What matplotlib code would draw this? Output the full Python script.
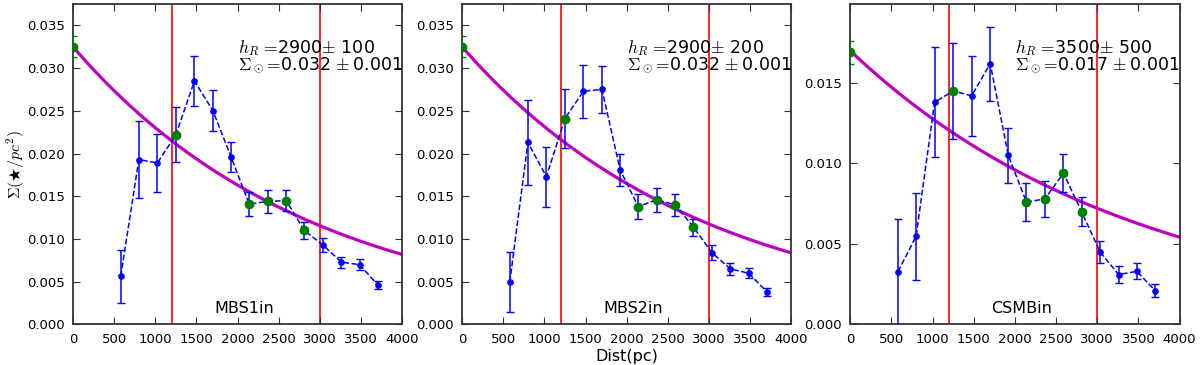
import numpy as np
import matplotlib.pyplot as plt

plt.rcParams['mathtext.fontset'] = 'cm'
plt.rcParams['font.family'] = 'DejaVu Sans'

# distances (pc) of the radial bins
dist = [0, 580, 800, 1025, 1250, 1475, 1700, 1920, 2140, 2365, 2590, 2810, 3035, 3260, 3480, 3705]
# bins used for the fit (green)
fit_idx = [0, 4, 8, 9, 10, 11]

names = ['MBS1in', 'MBS2in', 'CSMBin']

sig_mbs1 = [0.0325, 0.00564, 0.0193, 0.0189, 0.0222, 0.0285, 0.0250, 0.0196, 0.0141, 0.0144,
            0.0145, 0.0110, 0.0093, 0.0073, 0.0070, 0.0046]
err_mbs1 = [0.0012, 0.0031, 0.0045, 0.0034, 0.0032, 0.0029, 0.0024, 0.0018, 0.0014, 0.0013,
            0.0012, 0.0010, 0.0008, 0.00065, 0.00065, 0.00045]

sig_mbs2 = [0.0325, 0.00494, 0.0213, 0.0173, 0.0241, 0.0273, 0.0275, 0.0181, 0.0138, 0.0146,
            0.0140, 0.0114, 0.0084, 0.0065, 0.0060, 0.0038]
err_mbs2 = [0.0012, 0.0035, 0.0050, 0.0035, 0.0035, 0.0031, 0.0027, 0.0019, 0.0015, 0.0014,
            0.0013, 0.0010, 0.00085, 0.0007, 0.0006, 0.00045]

sig_csmb = [0.0169, 0.00328, 0.00547, 0.0138, 0.0145, 0.0142, 0.0162, 0.0105, 0.0076, 0.0078,
            0.0094, 0.0070, 0.0045, 0.0031, 0.0033, 0.0021]
err_csmb = [0.0007, 0.0033, 0.0027, 0.0034, 0.0030, 0.0025, 0.0023, 0.0017, 0.0012, 0.0011,
            0.0012, 0.0009, 0.0007, 0.00055, 0.0005, 0.0004]

# exponential disc fits
h_r = [2900, 2950, 3500]
sigma0 = [0.0325, 0.0325, 0.017]
fit_text = [r'$h_R\,=\!$2900$\pm$ 100' + '\n' + r'$\Sigma_\odot\!=\!$0.032$\,\pm$0.001',
            r'$h_R\,=\!$2900$\pm$ 200' + '\n' + r'$\Sigma_\odot\!=\!$0.032$\,\pm$0.001',
            r'$h_R\,=\!$3500$\pm$ 500' + '\n' + r'$\Sigma_\odot\!=\!$0.017$\,\pm$0.001']
ytop = [0.0375, 0.0375, 0.0199]
yticks = [np.arange(0, 0.0351, 0.005), np.arange(0, 0.0351, 0.005), np.arange(0, 0.0151, 0.005)]

sigs = [sig_mbs1, sig_mbs2, sig_csmb]
errs = [err_mbs1, err_mbs2, err_csmb]

fig = plt.figure(figsize=(12, 3.65), dpi=100)
lefts = [0.0608, 0.385, 0.7085]
axes = [fig.add_axes([l, 0.111, 0.2745, 0.878]) for l in lefts]

xx = np.linspace(0, 4000, 200)
d = np.array(dist)
for i, ax in enumerate(axes):
    s = np.array(sigs[i])
    e = np.array(errs[i])
    ax.axvline(1200, color='r', lw=1.2, zorder=1)
    ax.axvline(3000, color='r', lw=1.2, zorder=1)
    ax.plot(xx, sigma0[i] * np.exp(-xx / h_r[i]), color='m', lw=2.3, zorder=2)
    ax.errorbar(d[1:], s[1:], yerr=e[1:], fmt='o', color='b', ls='--', lw=1.1,
                ms=3.8, capsize=3, capthick=1, zorder=3)
    ax.errorbar(d[:1], s[:1], yerr=e[:1], fmt='o', color='g', ms=6, capsize=3,
                capthick=1, zorder=4)
    ax.plot(d[fit_idx[1:]], s[fit_idx[1:]], 'o', color='g', ms=6, zorder=5)
    ax.set_xlim(0, 4000)
    ax.set_ylim(0, ytop[i])
    ax.set_xticks(np.arange(0, 4001, 500))
    ax.set_yticks(yticks[i])
    ax.set_yticklabels(['%.3f' % v for v in yticks[i]])
    ax.tick_params(direction='in', top=True, right=True, length=5, labelsize=9.5,
                   color='#333333', pad=6)
    for sp in ax.spines.values():
        sp.set_color('#333333')
        sp.set_linewidth(1.3)
    ax.text(0.52, 0.025, names[i], transform=ax.transAxes, ha='center', va='bottom', fontsize=11.5)
    ax.text(2000, ytop[i] * 0.835, fit_text[i], ha='left', va='center', fontsize=12.5,
            linespacing=0.8)

axes[0].set_ylabel(r'$\Sigma(\bigstar/pc^2)$', fontsize=11.5, labelpad=0)
axes[1].set_xlabel('Dist(pc)', fontsize=11.5, labelpad=2)

fig.savefig('out.png', dpi=100)
